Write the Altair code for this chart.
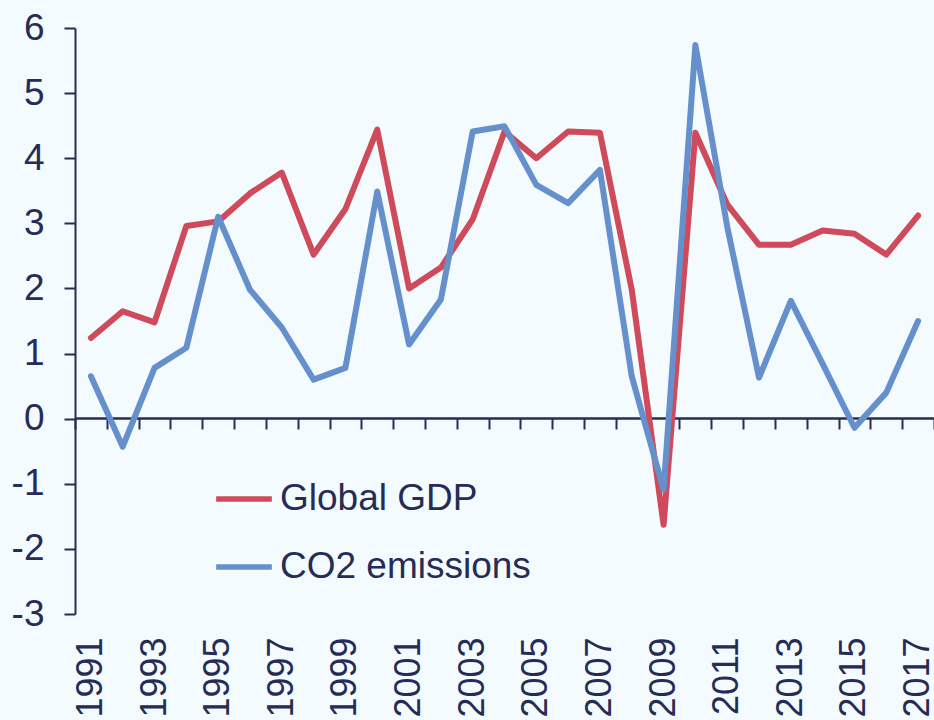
import altair as alt
import pandas as pd

# Annual growth rates (%), 1991-2017
years = list(range(1991, 2018))
gdp = [1.24, 1.65, 1.48, 2.96, 3.03, 3.46, 3.78, 2.52, 3.22, 4.44,
       2.00, 2.32, 3.06, 4.41, 4.00, 4.41, 4.39, 1.98, -1.63, 4.39,
       3.29, 2.67, 2.67, 2.89, 2.84, 2.52, 3.12]
co2 = [0.65, -0.43, 0.78, 1.09, 3.10, 1.98, 1.40, 0.60, 0.78, 3.49,
       1.14, 1.83, 4.41, 4.49, 3.59, 3.31, 3.82, 0.65, -1.09, 5.74,
       2.95, 0.63, 1.81, 0.84, -0.14, 0.40, 1.50]
series_names = ["Global GDP", "CO2 emissions"]
series_colors = ["#cf4a5a", "#6590cc"]
y_ticks = list(range(-3, 7))

df = pd.concat([
    pd.DataFrame({"year": years, "value": gdp, "series": series_names[0]}),
    pd.DataFrame({"year": years, "value": co2, "series": series_names[1]}),
], ignore_index=True)

INK = "#262c55"
FONT = "Liberation Sans"
W, H = 859, 586

x_scale = alt.Scale(type="band", paddingInner=0, paddingOuter=0)
y_scale = alt.Scale(domain=[-3, 6], nice=False, zero=False)
y_axis = alt.Axis(values=y_ticks, title=None, grid=False,
                  domainColor=INK, domainWidth=2, tickColor=INK,
                  tickWidth=2, tickSize=11, labelPadding=20,
                  labelFontSize=37, labelFont=FONT, labelColor=INK,
                  labelExpr="datum.value < 0 ? '-' + abs(datum.value) : '' + datum.value")

# Lines, with the zero line + boundary ticks as an axis pulled up to y=0
lines = alt.Chart(df).mark_line(strokeWidth=6, strokeCap="round", strokeJoin="round").encode(
    x=alt.X("year:O", scale=x_scale, bandPosition=0.5,
            axis=alt.Axis(orient="bottom", offset=-196, labels=False, title=None,
                          domain=True, domainColor=INK, domainWidth=2.5,
                          ticks=True, tickBand="extent", tickSize=11,
                          tickColor=INK, tickWidth=2, grid=False)),
    y=alt.Y("value:Q", scale=y_scale, axis=y_axis),
    color=alt.Color("series:N",
                    scale=alt.Scale(domain=series_names, range=series_colors),
                    legend=alt.Legend(orient="none", legendX=138, legendY=440,
                                      title=None, symbolType="stroke",
                                      symbolSize=3100, symbolStrokeWidth=5.5,
                                      labelFontSize=37, labelFont=FONT,
                                      labelColor=INK, labelOffset=5,
                                      labelLimit=0, rowPadding=19, padding=0)),
)

# Invisible layer carrying the rotated year labels at the bottom
labels = alt.Chart(df).mark_point(opacity=0).encode(
    x=alt.X("year:O", scale=x_scale, bandPosition=0.5,
            axis=alt.Axis(orient="bottom", labelAngle=-90, labelPadding=23,
                          labelFontSize=36, labelFont=FONT, labelColor=INK,
                          domain=False, ticks=False, title=None, grid=False,
                          labelExpr="datum.value % 2 == 1 ? datum.label : ''")),
    y=alt.Y("value:Q", scale=y_scale, axis=y_axis),
)

chart = alt.layer(lines, labels).resolve_axis(x="independent").properties(
    width=W, height=H,
    autosize=alt.AutoSizeParams(type="none"),
    padding={"left": 75, "top": 28, "right": 0, "bottom": 106},
    background="#f3fbff",
).configure_view(stroke=None)

chart.save("out.html", embed_options={"renderer": "svg", "actions": False})
